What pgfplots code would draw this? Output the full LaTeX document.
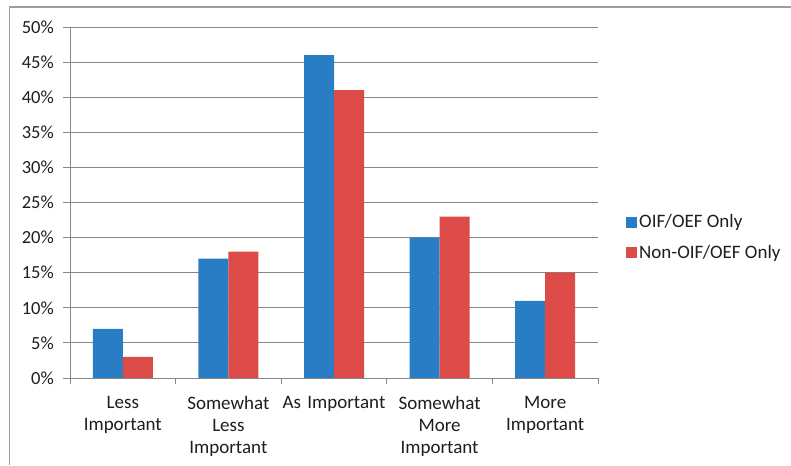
\documentclass[border=0pt]{standalone}
\usepackage{pgfplots}
\pgfplotsset{compat=1.18}
\usepackage{fontspec}
\setmainfont{Carlito}
\definecolor{barblue}{RGB}{40,125,196}
\definecolor{barred}{RGB}{220,75,72}
\definecolor{gridgray}{RGB}{134,134,134}
\definecolor{txt}{RGB}{30,30,30}
\begin{document}
\fontsize{18}{22}\selectfont
\begin{tikzpicture}[x=1pt,y=1pt]
\useasboundingbox (0,0) rectangle (791,465);
% chart frame (left and top edges)
\draw[gridgray!80, line width=1.2pt] (9.5,0) -- (9.5,458) -- (791,458);
\begin{axis}[
  at={(70pt,87pt)}, anchor=south west,
  scale only axis, width=528pt, height=351pt,
  ybar=0pt, bar width=30pt,
  xmin=-0.5, xmax=4.5, ymin=0, ymax=50,
  ytick={0,5,...,50},
  yticklabel={\pgfmathprintnumber{\tick}\%},
  /pgf/number format/assume math mode=true,
  ymajorgrids, grid style={gridgray, line width=0.9pt},
  axis x line*=bottom, axis y line*=left,
  axis line style={gridgray, line width=0.9pt},
  tick align=outside,
  ytick style={gridgray, line width=0.9pt},
  major tick length=7pt,
  xtick={0,...,4},
  xticklabels={{Less\\Important},{Somewhat\\Less\\Important},{As Important},{Somewhat\\More\\Important},{More\\Important}},
  major x tick style={draw=none},
  minor xtick={-0.5,0.5,...,4.5},
  minor x tick style={gridgray, line width=0.9pt},
  minor tick length=6pt,
  xticklabel style={align=center, text width=110pt, font=\fontsize{19}{22}\selectfont, text=txt, yshift=-5pt},
  yticklabel style={font=\fontsize{18.5}{22}\selectfont, text=txt, xshift=-3pt},
  legend style={at={(1,0.5)}, anchor=west, xshift=28pt, yshift=-35pt, draw=none, fill=none,
    font=\fontsize{19}{22}\selectfont, text=txt, row sep=11pt,
    cells={anchor=west}, inner sep=0pt,
    nodes={inner xsep=2pt}},
  legend image code/.code={\fill[#1] (0pt,-5.5pt) rectangle (11pt,5.5pt);},
  legend cell align=left,
  clip=false,
]
\addplot[fill=barblue, draw=none] coordinates {(0,7) (1,17) (2,46) (3,20) (4,11)};
\addplot[fill=barred, draw=none] coordinates {(0,3) (1,18) (2,41) (3,23) (4,15)};
\legend{OIF/OEF Only, Non-OIF/OEF Only}
\end{axis}
\end{tikzpicture}
\end{document}
